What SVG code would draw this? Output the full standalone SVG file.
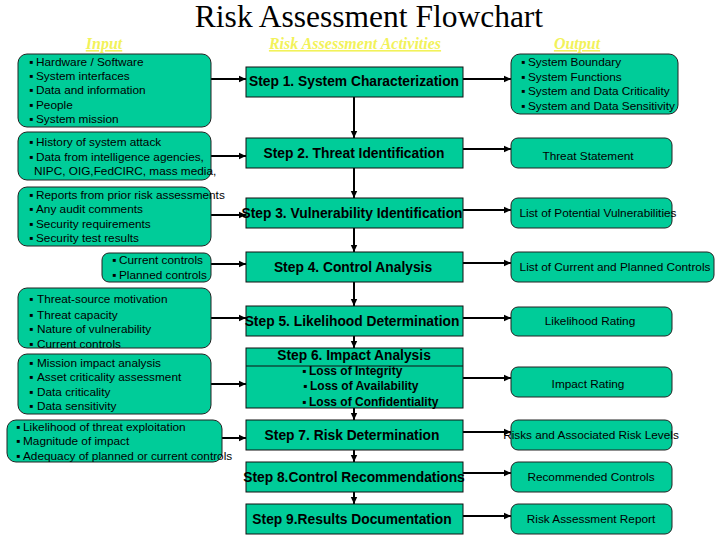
<svg xmlns="http://www.w3.org/2000/svg" width="720" height="540" viewBox="0 0 720 540">
<style>
.bg{fill:#ffffff}
.rb{fill:#00cc99;stroke:#222;stroke-width:1}
.sq{fill:#00cc99;stroke:#111;stroke-width:1}
.t{font-family:"Liberation Sans",Arial,"DejaVu Sans",sans-serif;font-size:11.8px;fill:#000}
.s{font-family:"Liberation Sans",Arial,sans-serif;font-size:13.8px;font-weight:bold;fill:#000;text-anchor:middle}
.sb{font-family:"Liberation Sans",Arial,"DejaVu Sans",sans-serif;font-size:12px;font-weight:bold;fill:#000}
.o{font-family:"Liberation Sans",Arial,sans-serif;font-size:11.8px;fill:#000;text-anchor:middle}
.h{font-family:"Liberation Serif","Times New Roman",serif;font-size:16px;font-weight:bold;font-style:italic;fill:#f2f25a;text-anchor:middle;text-decoration:underline}
.title{font-family:"Liberation Serif","Times New Roman",serif;font-size:31.5px;fill:#000;text-anchor:middle}
.c{fill:none;stroke:#000;stroke-width:2}
</style>
<defs>
<marker id="ah" markerUnits="userSpaceOnUse" markerWidth="8" markerHeight="8" refX="7" refY="4" orient="auto">
<path d="M0,0.8 L7,4 L0,7.2 Z" fill="#000"/>
</marker>
</defs>
<rect class="bg" x="0" y="0" width="720" height="540"/>
<text class="title" x="369" y="27">Risk Assessment Flowchart</text>
<text class="h" x="104" y="49">Input</text>
<text class="h" x="355" y="49">Risk Assessment Activities</text>
<text class="h" x="577" y="49">Output</text>

<g id="connectors">
<path class="c" marker-end="url(#ah)" d="M211 79 H246"/>
<path class="c" marker-end="url(#ah)" d="M211 156 H246"/>
<path class="c" marker-end="url(#ah)" d="M211 215 H246"/>
<path class="c" marker-end="url(#ah)" d="M211 264 H246"/>
<path class="c" marker-end="url(#ah)" d="M211 318 H246"/>
<path class="c" marker-end="url(#ah)" d="M211 384 H246"/>
<path class="c" marker-end="url(#ah)" d="M222 438 H246"/>
<path class="c" marker-end="url(#ah)" d="M463 79 H511"/>
<path class="c" marker-end="url(#ah)" d="M463 149 H511"/>
<path class="c" marker-end="url(#ah)" d="M463 210 H511"/>
<path class="c" marker-end="url(#ah)" d="M463 263 H511"/>
<path class="c" marker-end="url(#ah)" d="M463 318 H511"/>
<path class="c" marker-end="url(#ah)" d="M463 378 H511"/>
<path class="c" marker-end="url(#ah)" d="M463 432 H511"/>
<path class="c" marker-end="url(#ah)" d="M463 473 H511"/>
<path class="c" marker-end="url(#ah)" d="M463 516 H511"/>
<path class="c" marker-end="url(#ah)" d="M354 97 V138"/>
<path class="c" marker-end="url(#ah)" d="M354 168 V198"/>
<path class="c" marker-end="url(#ah)" d="M354 228 V252"/>
<path class="c" marker-end="url(#ah)" d="M354 282 V306"/>
<path class="c" marker-end="url(#ah)" d="M354 336 V348"/>
<path class="c" marker-end="url(#ah)" d="M354 408 V420"/>
<path class="c" marker-end="url(#ah)" d="M354 450 V462"/>
<path class="c" marker-end="url(#ah)" d="M354 492 V504"/>
</g>

<g id="in1">
<rect class="rb" x="18" y="54" width="193" height="73" rx="9"/>
<text class="t"><tspan x="29" y="66">▪</tspan><tspan x="36">Hardware / Software</tspan><tspan x="29" y="80">▪</tspan><tspan x="36">System interfaces</tspan><tspan x="29" y="94">▪</tspan><tspan x="36">Data and information</tspan><tspan x="29" y="109">▪</tspan><tspan x="36">People</tspan><tspan x="29" y="123">▪</tspan><tspan x="36">System mission</tspan></text>
</g>
<g id="in2">
<rect class="rb" x="18" y="132" width="193" height="48" rx="9"/>
<text class="t"><tspan x="29" y="146">▪</tspan><tspan x="36">History of system attack</tspan><tspan x="29" y="161">▪</tspan><tspan x="36">Data from intelligence agencies,</tspan><tspan x="34" y="175">NIPC, OIG,FedCIRC, mass media,</tspan></text>
</g>
<g id="in3">
<rect class="rb" x="18" y="187" width="193" height="59" rx="9"/>
<text class="t"><tspan x="29" y="199">▪</tspan><tspan x="36">Reports from prior risk assessments</tspan><tspan x="29" y="213">▪</tspan><tspan x="36">Any audit comments</tspan><tspan x="29" y="228">▪</tspan><tspan x="36">Security requirements</tspan><tspan x="29" y="242">▪</tspan><tspan x="36">Security test results</tspan></text>
</g>
<g id="in4">
<rect class="rb" x="102" y="253" width="109" height="29" rx="7"/>
<text class="t"><tspan x="112" y="264">▪</tspan><tspan x="119">Current controls</tspan><tspan x="112" y="279">▪</tspan><tspan x="119">Planned controls</tspan></text>
</g>
<g id="in5">
<rect class="rb" x="18" y="288" width="193" height="60" rx="9"/>
<text class="t"><tspan x="29" y="303">▪</tspan><tspan x="37">Threat-source motivation</tspan><tspan x="29" y="319">▪</tspan><tspan x="37">Threat capacity</tspan><tspan x="29" y="333">▪</tspan><tspan x="37">Nature of vulnerability</tspan><tspan x="29" y="348">▪</tspan><tspan x="37">Current controls</tspan></text>
</g>
<g id="in6">
<rect class="rb" x="18" y="354" width="193" height="60" rx="9"/>
<text class="t"><tspan x="29" y="367">▪</tspan><tspan x="37">Mission impact analysis</tspan><tspan x="29" y="381">▪</tspan><tspan x="37">Asset criticality assessment</tspan><tspan x="29" y="396">▪</tspan><tspan x="37">Data criticality</tspan><tspan x="29" y="410">▪</tspan><tspan x="37">Data sensitivity</tspan></text>
</g>
<g id="in7">
<rect class="rb" x="7" y="420" width="215" height="42" rx="9"/>
<text class="t"><tspan x="16" y="431">▪</tspan><tspan x="23">Likelihood of threat exploitation</tspan><tspan x="16" y="445">▪</tspan><tspan x="23">Magnitude of impact</tspan><tspan x="16" y="460">▪</tspan><tspan x="23">Adequacy of planned or current controls</tspan></text>
</g>

<g id="step1"><rect class="sq" x="246" y="67" width="217" height="30"/><text class="s" x="354" y="86">Step 1. System Characterization</text></g>
<g id="step2"><rect class="sq" x="246" y="138" width="217" height="30"/><text class="s" x="354" y="158">Step 2. Threat Identification</text></g>
<g id="step3"><rect class="sq" x="246" y="198" width="217" height="30"/><text class="s" x="352" y="218">Step 3. Vulnerability Identification</text></g>
<g id="step4"><rect class="sq" x="246" y="252" width="217" height="30"/><text class="s" x="353" y="272">Step 4. Control Analysis</text></g>
<g id="step5"><rect class="sq" x="246" y="306" width="217" height="30"/><text class="s" x="352" y="326">Step 5. Likelihood Determination</text></g>
<g id="step6">
<rect class="sq" x="246" y="348" width="217" height="60"/>
<line x1="246" y1="366" x2="463" y2="366" stroke="#111" stroke-width="1"/>
<text class="s" x="354" y="360">Step 6. Impact Analysis</text>
<text class="sb"><tspan x="302" y="375">▪</tspan><tspan x="309">Loss of Integrity</tspan><tspan x="303" y="390">▪</tspan><tspan x="310">Loss of Availability</tspan><tspan x="302" y="406">▪</tspan><tspan x="309">Loss of Confidentiality</tspan></text>
</g>
<g id="step7"><rect class="sq" x="246" y="420" width="217" height="30"/><text class="s" x="352" y="440">Step 7. Risk Determination</text></g>
<g id="step8"><rect class="sq" x="246" y="462" width="217" height="30"/><text class="s" x="354" y="482">Step 8.Control Recommendations</text></g>
<g id="step9"><rect class="sq" x="246" y="504" width="217" height="30"/><text class="s" x="352" y="524">Step 9.Results Documentation</text></g>

<g id="out1">
<rect class="rb" x="511" y="54" width="167" height="60" rx="9"/>
<text class="t"><tspan x="521" y="66">▪</tspan><tspan x="528">System Boundary</tspan><tspan x="521" y="81">▪</tspan><tspan x="528">System Functions</tspan><tspan x="521" y="95">▪</tspan><tspan x="528">System and Data Criticality</tspan><tspan x="521" y="110">▪</tspan><tspan x="528">System and Data Sensitivity</tspan></text>
</g>
<g id="out2"><rect class="rb" x="511" y="138" width="161" height="30" rx="7"/><text class="o" x="588" y="160">Threat Statement</text></g>
<g id="out3"><rect class="rb" x="511" y="198" width="161" height="30" rx="7"/><text class="o" x="598" y="217">List of Potential Vulnerabilities</text></g>
<g id="out4"><rect class="rb" x="511" y="252" width="203" height="30" rx="7"/><text class="o" x="615" y="271">List of Current and Planned Controls</text></g>
<g id="out5"><rect class="rb" x="511" y="307" width="161" height="29" rx="7"/><text class="o" x="590" y="325">Likelihood Rating</text></g>
<g id="out6"><rect class="rb" x="511" y="367" width="161" height="30" rx="7"/><text class="o" x="588" y="388">Impact Rating</text></g>
<g id="out7"><rect class="rb" x="511" y="420" width="161" height="30" rx="7"/><text class="o" x="591" y="439">Risks and Associated Risk Levels</text></g>
<g id="out8"><rect class="rb" x="511" y="462" width="161" height="30" rx="7"/><text class="o" x="591" y="481">Recommended Controls</text></g>
<g id="out9"><rect class="rb" x="511" y="504" width="161" height="30" rx="7"/><text class="o" x="591" y="523">Risk Assessment Report</text></g>
</svg>
